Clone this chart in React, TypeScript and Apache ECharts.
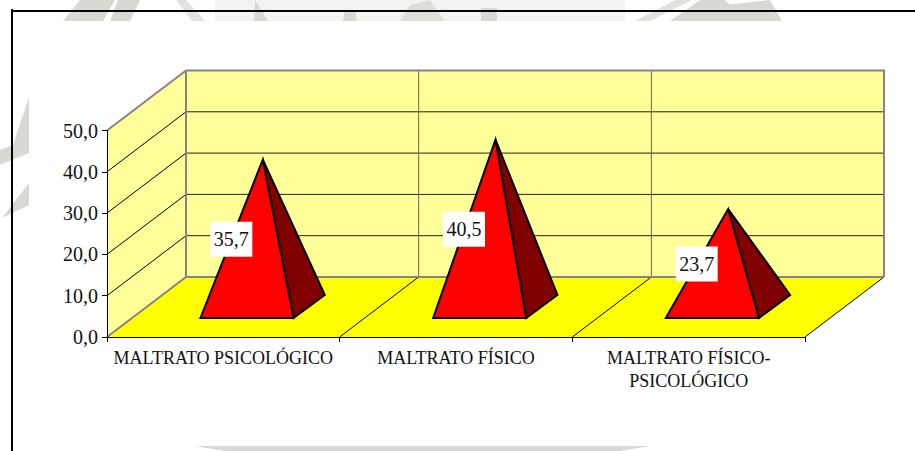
import React, { useEffect, useRef } from "react";
import * as echarts from "echarts";

const categories = ["MALTRATO PSICOLÓGICO", "MALTRATO FÍSICO", "MALTRATO FÍSICO-\nPSICOLÓGICO"];
const values = [35.7, 40.5, 23.7];
const valueLabels = ["35,7", "40,5", "23,7"];

const FONT = "'Liberation Serif', 'Times New Roman', serif";
const DX = 79;
const DY = -60;
const WM = "#d6dad2";
const WM_LIGHT = "#f3f4f2";

const frameItem = (_params: any, api: any) => {
  const bw = api.size([1, 0])[0];
  const [c0, y0] = api.coord([0, 0]);
  const [, yTop] = api.coord([0, 50]);
  const x0 = c0 - bw / 2;
  const x1 = x0 + bw * categories.length;
  const poly = (points: number[][], fill: string) => ({
    type: "polygon",
    shape: { points },
    style: { fill, stroke: "none" },
  });
  const line = (a: number[], b: number[], stroke: string, lineWidth: number) => ({
    type: "line",
    shape: { x1: a[0], y1: a[1], x2: b[0], y2: b[1] },
    style: { stroke, lineWidth },
  });
  const children: any[] = [
    poly([[x0 + DX, yTop + DY], [x1 + DX, yTop + DY], [x1 + DX, y0 + DY], [x0 + DX, y0 + DY]], "#ffff99"),
    poly([[x0, yTop], [x0 + DX, yTop + DY], [x0 + DX, y0 + DY], [x0, y0]], "#ffff99"),
    poly([[x0, y0], [x1, y0], [x1 + DX, y0 + DY], [x0 + DX, y0 + DY]], "#ffff00"),
  ];
  [10, 20, 30, 40].forEach((t) => {
    const y = api.coord([0, t])[1];
    children.push(line([x0, y], [x0 + DX, y + DY], "#000", 1));
    children.push(line([x0 + DX, y + DY], [x1 + DX, y + DY], "#222", 1));
  });
  categories.forEach((_c, i) => {
    if (i === 0) return;
    const x = x0 + bw * i;
    children.push(line([x + DX, yTop + DY], [x + DX, y0 + DY], "#666640", 1));
    children.push(line([x, y0], [x + DX, y0 + DY], "#000", 1));
  });
  children.push(line([x1, y0], [x1 + DX, y0 + DY], "#000", 1));
  const gray = "#848484";
  children.push(line([x0 + DX, yTop + DY], [x1 + DX + 1, yTop + DY], gray, 2));
  children.push(line([x1 + DX, yTop + DY], [x1 + DX, y0 + DY], gray, 2));
  children.push(line([x0 + DX, y0 + DY], [x1 + DX, y0 + DY], gray, 2));
  children.push(line([x0 + DX, yTop + DY], [x0 + DX, y0 + DY], gray, 2));
  children.push(line([x0, yTop], [x0 + DX, yTop + DY], gray, 2));
  children.push(line([x0, y0], [x0 + DX, y0 + DY], gray, 2));
  return { type: "group", children };
};

const pyramidItem = (_params: any, api: any) => {
  const i = api.value(0);
  const v = api.value(1);
  const bw = api.size([1, 0])[0];
  const [cx, y0] = api.coord([i, 0]);
  const halfW = bw * 0.2;
  const fl = [cx + DX * 0.3 - halfW, y0 + DY * 0.317];
  const fr = [cx + DX * 0.3 + halfW, y0 + DY * 0.317];
  const br = [cx + DX * 0.695 + halfW, y0 + DY * 0.7];
  const top = api.coord([i, v]);
  const apex = [top[0] + DX / 2, top[1] + DY / 2];
  const mid = api.coord([i, v / 2]);
  const lx = apex[0] - 31.5;
  const ly = mid[1] + DY / 2 + 6;
  const stroke = { stroke: "#000", lineWidth: 2, lineJoin: "miter" };
  return {
    type: "group",
    children: [
      { type: "polygon", shape: { points: [fr, br, apex] }, style: { fill: "#800000", ...stroke } },
      { type: "polygon", shape: { points: [fl, fr, apex] }, style: { fill: "#ff0000", ...stroke } },
      { type: "rect", shape: { x: lx - 21, y: ly - 17.5, width: 42, height: 35 }, style: { fill: "#fff" } },
      {
        type: "text",
        style: {
          text: valueLabels[i],
          x: lx,
          y: ly,
          align: "center",
          verticalAlign: "middle",
          fill: "#111",
          font: `20px ${FONT}`,
        },
      },
    ],
  };
};

const wmPoly = (points: number[][], fill: string = WM) => ({
  type: "polygon",
  silent: true,
  z: -10,
  shape: { points },
  style: { fill },
});

export default function App() {
  const ref = useRef<HTMLDivElement>(null);
  useEffect(() => {
    const chart = echarts.init(ref.current!, null, { renderer: "svg" });
    chart.setOption({
      animation: false,
      backgroundColor: "#fff",
      grid: { left: 107, right: 110, top: 130.5, bottom: 114 },
      xAxis: {
        type: "category",
        data: categories,
        z: 6,
        axisLine: { lineStyle: { color: "#000", width: 1 } },
        axisTick: { show: true, length: 5, lineStyle: { color: "#000" } },
        axisLabel: { fontFamily: FONT, fontSize: 18, color: "#111", margin: 9, lineHeight: 23, interval: 0 },
        splitLine: { show: false },
      },
      yAxis: {
        type: "value",
        min: 0,
        max: 50,
        interval: 10,
        z: 6,
        axisLine: { show: true, lineStyle: { color: "#000", width: 1 } },
        axisTick: { show: true, length: 5, lineStyle: { color: "#000" } },
        axisLabel: {
          fontFamily: FONT,
          fontSize: 20,
          color: "#111",
          margin: 9,
          formatter: (v: number) => v.toFixed(1).replace(".", ","),
        },
        splitLine: { show: false },
      },
      graphic: [
        wmPoly([[215, 0], [625, 0], [625, 21], [215, 21]], WM_LIGHT),
        wmPoly([[80, 0], [63, 21], [103, 21], [115, 0]]),
        wmPoly([[118, 0], [110, 21], [130, 21], [140, 0]]),
        wmPoly([[176, 0], [186, 0], [205, 21], [192, 21]], "#e2e5df"),
        wmPoly([[255, 0], [254, 21], [268, 21]]),
        wmPoly([[345, 10], [355, 10], [357, 21], [343, 21]]),
        wmPoly([[400, 21], [410, 5], [430, 0], [445, 21]], "#dde0d9"),
        wmPoly([[481, 8], [497, 8], [497, 21], [481, 21]]),
        wmPoly([[635, 21], [675, 0], [692, 0], [650, 21]], "#dfe3db"),
        wmPoly([[670, 21], [700, 0], [725, 0], [745, 21]]),
        wmPoly([[725, 5], [770, 0], [782, 21], [735, 21]]),
        wmPoly([[29, 97], [13, 145], [0, 150], [0, 165], [29, 153]]),
        wmPoly([[29, 183], [2, 218], [29, 205]]),
        wmPoly([[195, 446], [650, 446], [620, 451], [225, 451]]),
        {
          type: "line",
          silent: true,
          shape: { x1: 12, y1: 9, x2: 12, y2: 451 },
          style: { stroke: "#000", lineWidth: 2 },
        },
        {
          type: "line",
          silent: true,
          shape: { x1: 11, y1: 11, x2: 915, y2: 11 },
          style: { stroke: "#000", lineWidth: 2 },
        },
      ],
      series: [
        { type: "custom", z: 1, silent: true, clip: false, renderItem: frameItem, data: [[0, 0]] },
        {
          type: "custom",
          z: 3,
          silent: true,
          clip: false,
          renderItem: pyramidItem,
          data: values.map((v, i) => [i, v]),
        },
      ],
    });
    return () => chart.dispose();
  }, []);
  return <div ref={ref} style={{ position: "absolute", left: 0, top: 0, width: 915, height: 451 }} />;
}
